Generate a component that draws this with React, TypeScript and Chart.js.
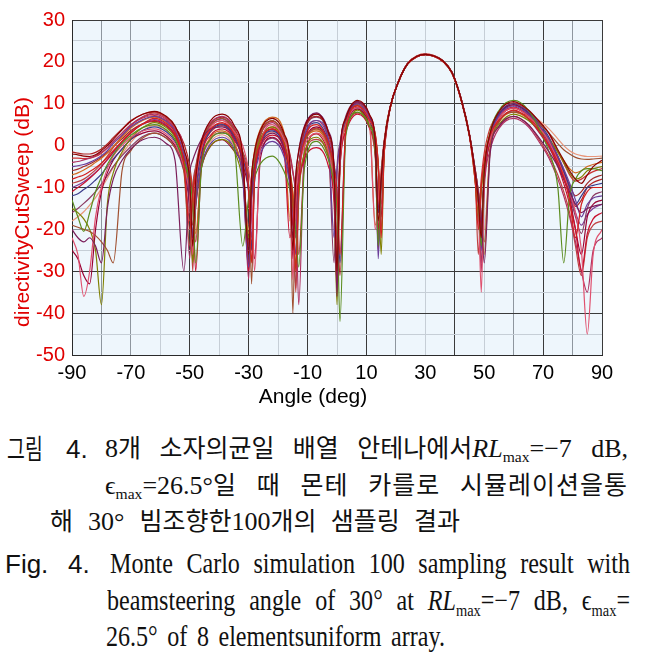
import React, { useEffect, useRef } from 'react';
import { Chart, registerables } from 'chart.js';

Chart.register(...registerables);
Chart.defaults.font.family = '"Liberation Sans", Arial, sans-serif';

// Sample angles (deg) shared by all sweeps
const ANGLES = [
  -90, -88, -86, -84, -82, -80, -78, -76, -73, -70, -66, -62,
  -58, -55, -52, -50, -49, -48, -46, -43, -39, -35, -32,
  -30, -29, -28, -26, -22, -18, -16, -15, -14, -13, -11, -7, -3, -1,
  0, 1, 3, 7, 11, 13, 14, 15, 16, 18, 21, 24, 27,
  30, 33, 36, 39, 42, 45, 47, 48, 49, 50, 52, 55,
  60, 65, 69, 72, 75, 77, 79, 81, 83, 85, 87, 90,
];

const X_TICK_LABELS = [-90, -70, -50, -30, -10, 10, 30, 50, 70, 90];
const Y_TICK_LABELS = [-50, -40, -30, -20, -10, 0, 10, 20, 30];
const X_TITLE = 'Angle (deg)';
const Y_TITLE = 'directivityCutSweep (dB)';

// directivity (dB) per Monte Carlo sample
const S01 = [
  -2, -2.2, -2.5, -2.6, -2.2, -1.2, 0, 1.5, 3.8, 5.8, 7.5, 8.2,
  7.0, 4.7, -0.8, -8.8, -24, -8.5, 0.9, 5.9, 7.5, 4.9, -2.5,
  -26, -7.5, -1.5, 3.7, 6.5, 2.9, -4.5, -25, -7.5, -1.5, 4.5, 7.5, 3.3, -5.5,
  -30, -2.2, 6.6, 10.8, 7.5, 0.8, -18, -8, 0.5, 9, 15.5, 19.6, 21.3,
  21.8, 21.4, 20.2, 17.5, 11.5, 2.5, -7, -13, -22, -6.5, 2.9, 8.1,
  10.5, 8.5, 5.5, 3, -1, -3.5, -6, -8, -9, -7, -5, -3.5,
];
const S02 = [
  -8, -7.5, -7, -6.2, -5.3, -4.2, -2.8, -1.2, 1, 3, 5.2, 6.5,
  5.3, 3, -4.5, -20, -11.5, -6.5, 0, 3.9, 5.5, 2.9, -2.5,
  -10.5, -28, -8, 0.5, 4, 0.4, -6.5, -13, -30, -9, 1.5, 5, 0.8, -5,
  -11, -26, 4, 9.5, 6.2, 2.5, -4.5, -22, -2, 8.8, 15.4, 19.5, 21.2,
  21.7, 21.3, 20.1, 17.4, 11.3, 2.2, -9, -20, -9.5, -3.5, 2.5, 6.1,
  8.5, 6.5, 3, 0, -4, -7.5, -13, -22, -14, -11, -10, -10,
];
const S03 = [
  -20, -22, -23, -22, -24, -28, -15, -8, -3.5, -0.8, 1.4, 2,
  0.5, -3.5, -30, -6.5, -3.5, -1.5, 1.5, 4, 4.5, 1.9, -5.5,
  -24, -11, -5, 0.2, 3, -0.6, -8, -22, -7.2, -1.2, 4.8, 7.8, 3.6, -5.2,
  -36, -2.5, 6.3, 10.5, 7.2, 0.5, -15, -8.2, 0.3, 9, 15.5, 19.6, 21.3,
  21.8, 21.4, 20.2, 17.6, 11.6, 2.6, -6, -11, -17, -28, -2, 4.6,
  7, 5, 1.5, -1.5, -5, -8, -11, -14, -16, -15, -14.5, -14,
];
const S04 = [
  -13, -17, -20.5, -16, -11, -7.5, -4.5, -2.2, 0.5, 2.5, 4.3, 5,
  3.8, 1.5, -4, -8, -14, -28, -5, 1.4, 3, 0.4, -24,
  -12.5, -9.5, -7.5, -4.3, -2.5, -6.1, -10.5, -14.5, -20.5, -29, -5, 1, -3.2, -9,
  -15, -42, 2.5, 8, 4.7, -2, -24, -8, 0.5, 9, 15.5, 19.6, 21.3,
  21.8, 21.4, 20.2, 17.5, 11.5, 2.5, -7, -13, -24, -6.2, 3.2, 8.4,
  10.8, 8.5, 3.5, -1.5, -10, -28, -12, -8, -6, -5.5, -5.5, -6,
];
const S05 = [
  -22, -26, -36, -30, -17, -10, -5.5, -2.5, 0, 2, 3.5, 4,
  2.8, 0.5, -5, -13, -26, -10, -0.6, 4.4, 6, 3.4, 0,
  -6, -12, -30, 0, 5, 1.4, -6, -32, -12, -6, 0, 3, -1.2, -10,
  -25, -4, 4.8, 9, 5.7, -20, -13, -6, 1, 9.2, 15.6, 19.7, 21.4,
  21.9, 21.5, 20.3, 17.6, 11.7, 2.8, -7, -13, -35, -8, 1.4, 6.6,
  9, 7, 4, 1, -3.5, -7, -11, -16, -25, -45, -26, -20,
];
const S06 = [
  -5, -4.8, -4.5, -4, -3.3, -2.4, -1.2, 0.5, 2.5, 4.5, 6.2, 7,
  5.8, 3.5, -2, -10, -22, -14, -4.6, 0.4, 2, -0.6, -8,
  -29, -13, -7, -1.8, 1, -2.6, -9.5, -16, -26, -8, 2.5, 6, 1.8, -22,
  -6, 0, 6.5, 10, 6.7, 0, -27, -8, 0.5, 9, 15.5, 19.6, 21.3,
  21.8, 21.4, 20.2, 17.5, 11.5, 2.5, -7, -13, -25, -7.5, 2, 7.1,
  9.5, 7.5, 4.5, 1.5, -2.5, -5.5, -9, -13, -17, -14, -12.5, -12,
];
const S07 = [
  -19, -19.5, -20, -20.5, -21.5, -23, -25, -28, -6, -1.2, 1.8, 3,
  1.8, -0.5, -6, -24, -10.5, -5.5, 1, 4.9, 6.5, 3.9, -1.5,
  -9.5, -33, -6, 2.5, 6, 2.4, -5, -40, -11, -5, 1, 4, -0.2, -9,
  -28, -3.2, 5.6, 9.8, 6.5, 2.8, -4.2, -20, -2, 8.8, 15.4, 19.5, 21.2,
  21.7, 21.3, 20.1, 17.3, 11.2, 2.1, -6, -11, -17, -23, -1, 5.6,
  8, 7, 5, 3, 0.5, -1, -2, -2.8, -3.2, -3.3, -3.2, -3,
];
const S08 = [
  -11, -10, -9, -7.8, -6.5, -5, -3.3, -1.5, 1, 3.2, 5.1, 6,
  4.8, 2.5, -3, -7, -13, -30, -4, 2.4, 4, 1.4, -6,
  -30, -11.5, -5.5, -0.3, 2.5, -1.1, -22, -17.5, -12.5, -8.5, -3, -0.5, -4.7, -13.5,
  -33, -5.5, 3.3, 7.5, 4.2, -2.5, -20, -8, 0.5, 9, 15.5, 19.6, 21.3,
  21.8, 21.4, 20.2, 17.5, 11.4, 2.4, -7, -13, -20, -8, 1.4, 6.6,
  9, 7, 3.5, 0, -5, -9, -14, -20, -30, -21, -17.5, -16,
];
const S09 = [
  -15, -16, -17.5, -20, -25, -38, -14, -6.5, -1.5, 1.8, 4.3, 5.5,
  4.3, 2, -3.5, -12, -28, -14.5, -5.1, -0.1, 1.5, -1.1, -8.5,
  -22, -9.5, -3.5, 1.7, 4.5, 0.9, -6, -12.5, -29, -12, -1.5, 2, -2.2, -11,
  -38, -4.5, 4.3, 8.5, 5.2, 1.5, -5.5, -26, -2, 8.8, 15.4, 19.5, 21.3,
  21.8, 21.4, 20.2, 17.5, 11.5, 2.5, -9, -18, -10.5, -4.5, 1.5, 5.1,
  7.5, 6, 3.5, 1.5, -1.5, -4, -6.5, -8, -7.5, -6, -5.5, -5,
];
const S10 = [
  -4, -3.8, -3.4, -3, -2.4, -1.6, -0.5, 1, 3, 5, 6.8, 7.5,
  6.3, 4, -1.5, -27, -10, -5, 1.5, 5.4, 7, 4.4, -3,
  -32, -8.5, -2.5, 2.7, 5.5, 1.9, -2.5, -6.5, -12.5, -38, 0, 6, 1.8, -7,
  -34, -3, 5.8, 10, 6.7, 0, -23, -8, 0.5, 9, 15.5, 19.6, 21.3,
  21.8, 21.4, 20.2, 17.5, 11.5, 2.5, -7, -13, -30, -10.5, -1.1, 4.1,
  6.5, 4.5, 0.5, -3, -8, -12, -17, -23, -30, -35, -25, -22,
];
const S11 = [
  -12, -11.5, -10.5, -9.5, -8.2, -6.8, -5, -3.2, -0.8, 1.5, 3.6, 4.5,
  3.3, 1, -4.5, -13.5, -22, -11, -1.6, 3.4, 5, 2.4, -3,
  -11, -25, -8.5, 0, 3.5, -0.1, -7, -13.5, -22, -8.5, 2, 5.5, 1.3, -4.5,
  -10.5, -28, 3.5, 9, 5.7, -1, -16, -8, 0.5, 9, 15.5, 19.6, 21.3,
  21.8, 21.4, 20.2, 17.5, 11.5, 2.5, -7, -13, -18, -7, 2.4, 7.6,
  10, 8, 5, 2, -2.5, -6, -10, -14, -12, -10, -9.5, -9,
];
const S12 = [
  -7, -6.5, -5.8, -5, -4, -3, -1.8, -0.2, 2, 4.2, 6, 6.8,
  5.6, 3.3, -2.2, -6.2, -12, -21, -4.5, 1.9, 3.5, 0.9, -6.5,
  -21, -7.2, -1.2, 4, 6.8, 3.2, -18, -13.5, -8.5, -4.5, 1, 3.5, -0.7, -9.5,
  -27, -3.8, 5, 9.2, 5.9, -19, -14, -6, 1, 9.2, 15.6, 19.7, 21.4,
  21.9, 21.5, 20.3, 17.6, 11.6, 2.7, -6, -11, -17, -26, -1, 5.6,
  8, 6.5, 4, 1.5, -1.5, -3.5, -5.5, -6.5, -6, -5, -4.5, -4,
];
const S13 = [
  -25, -27, -31, -33, -20, -11, -6.5, -3.5, -0.8, 1.5, 3, 3.5,
  2.3, 0, -5.5, -14.5, -25, -14.6, -5.2, -0.2, 1.4, -1.2, -4.6,
  -10.6, -16.5, -27, -3, 2, -1.6, -9, -27, -10.5, -4.5, 1.5, 4.5, 0.3, -8.5,
  -26, -4.2, 4.6, 8.8, 5.5, 1.8, -5.2, -17, -2, 8.8, 15.4, 19.5, 21.2,
  21.7, 21.3, 20.1, 17.4, 11.4, 2.3, -7, -13, -19, -7.2, 2.2, 7.4,
  9.8, 7.8, 4.5, 1.5, -3.5, -7.5, -12.5, -20, -26, -17, -14, -13,
];
const S14 = [
  -9, -8.6, -8, -7, -5.8, -4.3, -2.5, -0.5, 2.3, 4.8, 6.9, 7.8,
  6.6, 4.3, -1.2, -9.2, -30, -10, -0.6, 4.4, 6, 3.4, -4,
  -24, -9.5, -3.5, 1.7, 4.5, 0.9, -6, -12.5, -35, -12.5, -2, 1.5, -2.7, -11.5,
  -24, -5.2, 3.6, 7.8, 4.5, -2.2, -12, -8, 0.5, 9, 15.5, 19.6, 21.3,
  21.8, 21.4, 20.2, 17.5, 11.5, 2.5, -9, -26, -11, -5, 1, 4.6,
  7, 5, 1, -2.5, -7, -11, -16, -24, -31, -22, -19, -18,
];
const S15 = [
  -6, -5.6, -5, -4.4, -3.6, -2.7, -1.6, -0.3, 1.6, 3.6, 5.2, 5.8,
  4.6, 2.3, -3.2, -11, -19, -9.2, 0.2, 5.2, 6.8, 4.2, -3.2,
  -23, -10, -4, 1.2, 4, 0.4, -6.5, -12.5, -21, -7, 3.5, 7, 2.8, -6,
  -24, -2.8, 6, 10.2, 6.9, 0.2, -16, -8, 0.5, 9, 15.5, 19.6, 21.3,
  21.8, 21.4, 20.2, 17.5, 11.5, 2.5, -7, -13, -17, -7.8, 1.6, 6.8,
  9.2, 7.2, 4, 1, -3, -6, -9.5, -12, -11, -9, -7.8, -7,
];
const S16 = [
  -3, -3, -3.1, -3, -2.6, -1.8, -0.6, 0.9, 3, 5, 6.6, 7.2,
  6, 3.7, -3.8, -18, -12, -7, -0.7, 3.2, 4.8, 2.2, -3.2,
  -11.2, -24, -6.2, 2.3, 5.8, 2.2, -5.2, -19, -10.8, -4.8, 1.2, 4.2, 0, -8.3,
  -29, -3.4, 5.4, 9.6, 6.3, 2.6, -4.4, -14, -2, 8.8, 15.4, 19.5, 21.2,
  21.7, 21.3, 20.1, 17.4, 11.4, 2.3, -9, -16, -7.8, -1.8, 4.2, 7.8,
  10.2, 8.3, 5.5, 2.8, -1.5, -4.2, -7, -8.5, -8, -7, -6.2, -5.5,
];
const S17 = [
  -16, -15, -13.8, -12.5, -11, -9.2, -7.2, -5, -2.4, -0.2, 2.2, 3,
  1.8, -0.5, -6, -14, -27, -12.8, -3.4, 1.6, 3.2, 0.6, -6.8,
  -19, -12.2, -6.2, -1, 1.8, -1.8, -8.7, -15.2, -34, -7.2, 3.3, 6.8, 1.3, -28,
  -5.4, 0.6, 7.1, 10.6, 7.3, 0.6, -21, -8, 0.5, 9, 15.5, 19.6, 21.3,
  21.8, 21.4, 20.2, 17.5, 11.5, 2.5, -7, -13, -28, -8.7, 0.7, 5.9,
  8.3, 6.3, 2.8, -0.5, -4.5, -8, -12, -17, -21, -15, -12, -11,
];
const S18 = [
  -1.5, -1.8, -2, -2, -1.6, -0.8, 0.4, 1.9, 4, 6, 7.5, 8,
  6.8, 4.5, 0.5, -5, -11, -23, -2.8, 3.6, 5.2, 2.6, -4.8,
  -28, -8, -2, 3.2, 6, 2.4, -2, -6, -12, -26, -3.2, 2.8, -1.4, -7.2,
  -14, -31, 3.2, 8.7, 5.4, -1.3, -25, -8, 0.5, 9, 15.5, 19.6, 21.3,
  21.8, 21.4, 20.2, 17.5, 11.5, 2.5, -7, -13, -21, -7.3, 2.1, 7.3,
  9.7, 7.7, 4.2, 1.2, -3, -6.5, -10.5, -14.5, -13, -10, -8.8, -8,
];
const S19 = [
  -10, -9.4, -8.6, -7.6, -6.4, -5, -3.4, -1.7, 0.7, 3, 5.2, 6.2,
  5, 2.7, -2.8, -11.2, -21, -9.6, -0.2, 4.8, 6.4, 3.8, -1.6,
  -9.6, -22, -8.2, 0.3, 3.8, 0.2, -6.7, -13.2, -18, -6.4, 4.1, 7.6, 3.4, -5.4,
  -27, -2.6, 6.2, 10.4, 7.1, 0.4, -22, -8, 0.5, 9, 15.5, 19.6, 21.3,
  21.8, 21.4, 20.2, 17.5, 11.5, 2.5, -7, -13, -24, -8, 1.4, 6.6,
  9, 7, 3.8, 0.5, -4, -7.5, -11.5, -16, -19, -16.5, -15, -14,
];
const S20 = [
  -18, -17, -15.8, -14.2, -12.4, -10.2, -7.8, -5.2, -2, 0.8, 3.6, 4.8,
  3.6, 1.3, -6.2, -16, -14.4, -9.4, -2.9, 1, 2.6, 0, -6.3,
  -20, -10.7, -4.7, 0.5, 3.3, -0.3, -17, -13.2, -8.2, -4.2, 1.3, 3.8, -1.7, -20,
  -7, -1, 5.5, 9, 5.7, 2, -5, -17, -2, 8.8, 15.4, 19.5, 21.3,
  21.8, 21.4, 20.2, 17.5, 11.5, 2.5, -6, -11, -17, -20, -0.2, 6.4,
  8.8, 7.6, 5.8, 4, 1.6, 0, -1.2, -2, -2.4, -2.6, -2.6, -2.5,
];

const SERIES = [
  S01, S02, S03, S04, S05, S06, S07, S08, S09, S10,
  S11, S12, S13, S14, S15, S16, S17, S18, S19, S20,
];
const COLORS = [
  '#8b0000', '#d42020', '#7b1e5a', '#5b8c1e', '#e0506e', '#6a3d9a', '#a05030',
  '#c8102e', '#808000', '#b03060', '#3a3a8a', '#d2691e', '#990033', '#c04040',
  '#a52a2a', '#cc3333', '#8b3a62', '#b22222', '#7d3c98', '#e9967a',
];

const X_GRID_DARK = [-90, -50, -30, -10, 10, 40, 70, 90];
const X_GRID_MED = [-80, -70, 20, 60, 80];
const Y_GRID_DARK = [30, 10, -10, -30, -40, -50];
const Y_GRID_MED = [20, 0, -20];

const gridColor = (dark: number[], med: number[]) => (c: any) => {
  const v = c.tick ? c.tick.value : null;
  if (dark.includes(v)) return '#3a3a3a';
  if (med.includes(v)) return '#8e969e';
  return '#c6ced6';
};

const bgPlugin = {
  id: 'plotBg',
  beforeDraw(chart: any) {
    const { ctx, chartArea } = chart;
    ctx.save();
    ctx.fillStyle = '#eef6fc';
    ctx.fillRect(chartArea.left, chartArea.top, chartArea.width, chartArea.height);
    ctx.restore();
  },
};

const titlePlugin = {
  id: 'axisTitles',
  afterDraw(chart: any) {
    const ctx = chart.ctx;
    ctx.save();
    ctx.font = '21px "Liberation Sans", Arial, sans-serif';
    ctx.textAlign = 'center';
    ctx.textBaseline = 'middle';
    ctx.fillStyle = '#e00000';
    ctx.translate(23, 212);
    ctx.rotate(-Math.PI / 2);
    ctx.fillText(Y_TITLE, 0, 0);
    ctx.restore();
    ctx.save();
    ctx.font = '21px "Liberation Sans", Arial, sans-serif';
    ctx.textAlign = 'center';
    ctx.textBaseline = 'middle';
    ctx.fillStyle = '#000';
    ctx.fillText(X_TITLE, 313, 397);
    ctx.restore();
  },
};

const SERIF = '"Liberation Serif", "Times New Roman", serif';
const SANS = '"Liberation Sans", Arial, sans-serif';
const KFONT = '"Noto Sans CJK KR", sans-serif';

const K = ({ children, ls = 0 }: any) => (
  <span style={{ fontFamily: KFONT, fontSize: 25, letterSpacing: ls }}>{children}</span>
);
const Sub = ({ children }: any) => (
  <span style={{ fontSize: '0.6em', verticalAlign: '-0.35em' }}>{children}</span>
);

function Line({ left, right, top, size, sx = 1, justify = true, family = SERIF, children }: any) {
  const w = (right - left) / sx;
  return (
    <div
      style={{
        position: 'absolute',
        left,
        top,
        width: w,
        fontSize: size,
        lineHeight: 1,
        fontFamily: family,
        color: '#111',
        transform: sx !== 1 ? `scaleX(${sx})` : undefined,
        transformOrigin: '0 0',
        textAlign: justify ? 'justify' : 'left',
        textAlignLast: justify ? 'justify' : 'left',
        wordBreak: 'keep-all',
        whiteSpace: 'normal',
      } as any}
    >
      {children}
    </div>
  );
}

function Caption() {
  return (
    <>
      <Line left={7} right={60} top={434} size={27} sx={0.72} justify={false} family={KFONT}>그림</Line>
      <Line left={66} right={100} top={436} size={26} justify={false} family={SANS}>4.</Line>
      <Line left={105} right={628} top={434} size={26}>
        8<K>개 소자의균일 배열 안테나에서</K><i>RL</i><Sub>max</Sub>=−7 dB,
      </Line>
      <Line left={105} right={628} top={471} size={26}>
        ϵ<Sub>max</Sub>=26.5°<K ls={1}>일 때 몬테 카를로 시뮬레이션을통</K>
      </Line>
      <Line left={50} right={460} top={507} size={26}>
        <K>해</K> 30° <K>빔조향한</K>100<K>개의 샘플링 결과</K>
      </Line>

      <Line left={5} right={60} top={551} size={26} justify={false} family={SANS}>Fig.</Line>
      <Line left={68} right={100} top={551} size={26} justify={false} family={SANS}>4.</Line>
      <Line left={110} right={630} top={549} size={29} sx={0.83}>
        Monte Carlo simulation 100 sampling result with
      </Line>
      <Line left={107} right={630} top={586} size={29} sx={0.83}>
        beamsteering angle of 30° at <i>RL</i><Sub>max</Sub>=−7 dB, ϵ<Sub>max</Sub>=
      </Line>
      <Line left={106} right={445} top={622} size={29} sx={0.83}>
        26.5° of 8 elementsuniform array.
      </Line>
    </>
  );
}

export default function App() {
  const ref = useRef<HTMLCanvasElement>(null);

  useEffect(() => {
    const datasets = SERIES.map((vals, si) => ({
      label: `Sample ${si + 1}`,
      data: ANGLES.map((a, i) => ({ x: a, y: vals[i] })),
      borderColor: COLORS[si],
      backgroundColor: COLORS[si],
      borderWidth: 1.2,
      pointRadius: 0,
      fill: false,
      cubicInterpolationMode: 'monotone' as const,
    }));

    const chart = new Chart(ref.current as HTMLCanvasElement, {
      type: 'line',
      data: { datasets },
      options: {
        responsive: false,
        animation: false,
        devicePixelRatio: 1,
        layout: { padding: { top: 20, right: 48, left: 0, bottom: 0 } },
        plugins: {
          legend: { display: false },
          tooltip: { enabled: false },
          title: { display: false },
        },
        scales: {
          x: {
            type: 'linear',
            min: -90,
            max: 90,
            afterFit: (s: any) => { s.height = 65; },
            ticks: {
              stepSize: 10,
              autoSkip: false,
              maxRotation: 0,
              padding: 6,
              color: '#000',
              font: { size: 20 },
              callback: (v: any) => (X_TICK_LABELS.includes(Number(v)) ? String(v) : ''),
            },
            grid: { color: gridColor(X_GRID_DARK, X_GRID_MED), drawTicks: false, lineWidth: 1 },
            border: { color: '#2a2a2a', width: 1 },
          },
          y: {
            type: 'linear',
            min: -50,
            max: 30,
            afterFit: (s: any) => { s.width = 72; },
            ticks: {
              stepSize: 5,
              autoSkip: false,
              padding: 7,
              color: '#e00000',
              font: { size: 20 },
              callback: (v: any) => (Y_TICK_LABELS.includes(Number(v)) ? String(v) : ''),
            },
            grid: { color: gridColor(Y_GRID_DARK, Y_GRID_MED), drawTicks: false, lineWidth: 1 },
            border: { color: '#2a2a2a', width: 1 },
          },
        },
      } as any,
      plugins: [bgPlugin, titlePlugin],
    });
    return () => chart.destroy();
  }, []);

  return (
    <div style={{ position: 'absolute', left: 0, top: 0, width: 650, height: 658, background: '#fff', overflow: 'hidden' }}>
      <canvas ref={ref} width={650} height={420} style={{ display: 'block', width: 650, height: 420 }} />
      <Caption />
    </div>
  );
}
